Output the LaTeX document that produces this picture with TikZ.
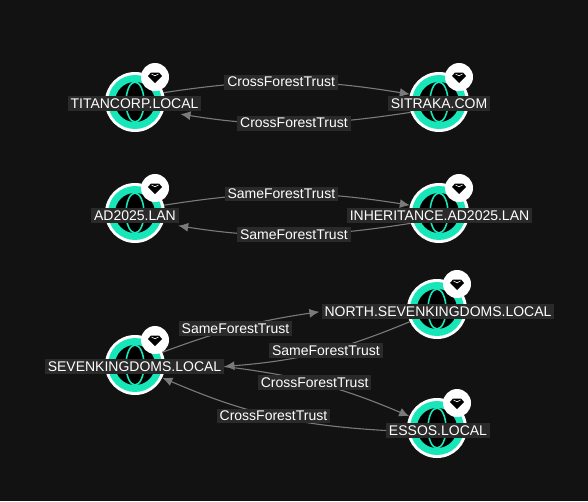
\documentclass[tikz,border=0pt]{standalone}
\usepackage{fontspec}
\setmainfont{Liberation Sans}
\usetikzlibrary{arrows.meta, positioning, calc}
\definecolor{bgdark}{HTML}{121212}
\definecolor{tealring}{HTML}{17E6B8}
\definecolor{labelbg}{HTML}{2A2A2A}
\definecolor{edgegray}{HTML}{7A7A7A}
\pgfdeclarelayer{paper}
\pgfdeclarelayer{edges}
\pgfsetlayers{paper,edges,main}

% globe with its badge, placed at the centre of a domain
\newcommand{\domainicon}[2]{%
    \node[globe] (#1) at (#2) {};
    \fill[tealring] (#1) circle (27pt);
    \fill[black] (#1) circle (20pt);
    \draw[tealring, line width=1.6pt] (#1) ellipse (9pt and 20pt);
    \node[badge] (#1badge) at ($(#1)+(20pt,25pt)$) {};
    \fill[black] ($(#1badge)+(-7pt,1pt)$) -- ++(3pt,3.5pt) -- ++(8pt,0) -- ++(3pt,-3.5pt)
        -- ++(-7pt,-7pt) -- cycle;
    \draw[white, line width=0.6pt] ($(#1badge)+(-3.5pt,3pt)$) -- ($(#1badge)+(0,1.2pt)$) -- ($(#1badge)+(3.5pt,3pt)$);
}

\begin{document}
\begin{tikzpicture}[
    x=1pt, y=-1pt,
    >={Latex[length=10pt,width=9pt]},
    globe/.style={circle, fill=white, minimum size=60pt, inner sep=0pt},
    badge/.style={circle, fill=white, minimum size=28pt, inner sep=0pt},
    domainlabel/.style={fill=labelbg, text=white, font=\fontsize{14}{16}\selectfont, inner xsep=3pt, inner ysep=2.5pt},
    trust/.style={fill=labelbg, text=white, font=\fontsize{14}{16}\selectfont, inner xsep=3pt, inner ysep=2.5pt},
    link/.style={->, draw=edgegray, fill=none, line width=1.1pt}
]
    \useasboundingbox (0,0) rectangle (588,501);
    \begin{pgfonlayer}{paper}
        \fill[bgdark] (0,0) rectangle (588,501);
    \end{pgfonlayer}

    % Dominios
    \domainicon{titan}{135,102}
    \domainicon{sitraka}{439,102}
    \domainicon{ad}{135,213}
    \domainicon{inherit}{439,213}
    \domainicon{seven}{135,365}
    \domainicon{north}{437,309}
    \domainicon{essos}{437,428}

    % Rotulos
    \node[domainlabel] (titanlabel) at (134.5,103.5) {TITANCORP.LOCAL};
    \node[domainlabel] (sitrakalabel) at (439,103.5) {SITRAKA.COM};
    \node[domainlabel] (adlabel) at (135,215.5) {AD2025.LAN};
    \node[domainlabel] (inheritlabel) at (439.5,215.5) {INHERITANCE.AD2025.LAN};
    \node[domainlabel] (sevenlabel) at (134.5,366.5) {SEVENKINGDOMS.LOCAL};
    \node[domainlabel] (northlabel) at (438,311.5) {NORTH.SEVENKINGDOMS.LOCAL};
    \node[domainlabel] (essoslabel) at (438,430.5) {ESSOS.LOCAL};

    % Conexoes
    \begin{pgfonlayer}{edges}
    \draw[link] (titan.18) to[bend left=9] node[trust, pos=0.475] (t1) {CrossForestTrust} (sitraka.165);
    \draw[link, shorten >=17pt] (sitraka.200) to[bend left=9] node[trust, pos=0.47] (t2) {CrossForestTrust} (titan.-18);
    \draw[link] (ad.15) to[bend left=9] node[trust, pos=0.475] (t3) {SameForestTrust} (inherit.165);
    \draw[link, shorten >=15pt] (inherit.200) to[bend left=9] node[trust, pos=0.47] (t4) {SameForestTrust} (ad.-20);
    \draw[link, shorten >=2pt] (seven.25) to[bend left=6] node[trust, pos=0.465] (t5) {SameForestTrust} (northlabel.west);
    \draw[link] (north.205) to[bend left=9] node[trust, pos=0.46] (t6) {SameForestTrust} (sevenlabel.east);
    \draw[link] (sevenlabel.east) to[bend left=8] node[trust, pos=0.475] (t7) {CrossForestTrust} (essos.157);
    \draw[link] (essoslabel.west) to[bend left=10] node[trust, pos=0.49] (t8) {CrossForestTrust} (seven.-25);
    \end{pgfonlayer}
\end{tikzpicture}
\end{document}
